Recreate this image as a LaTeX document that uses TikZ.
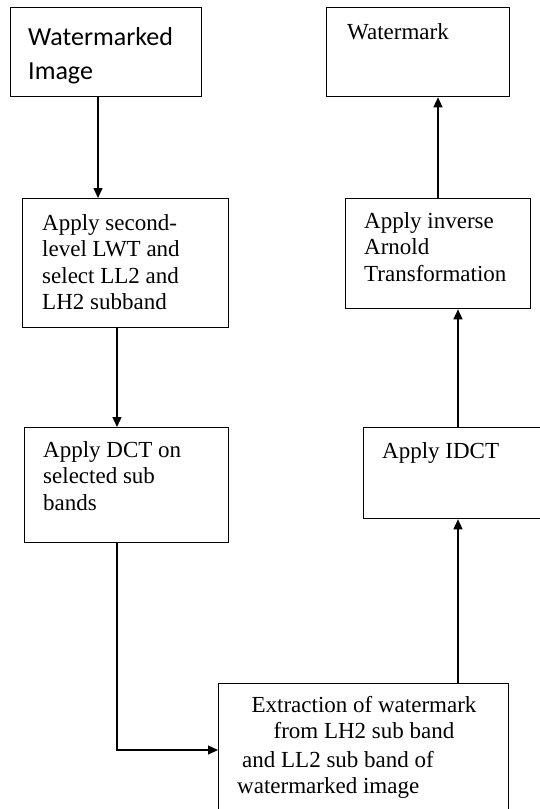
\documentclass[tikz,border=0pt]{standalone}
\usepackage{fontspec}
\setmainfont{Liberation Serif}
\newfontfamily\calibri{Carlito}
\usetikzlibrary{positioning,arrows.meta}

\begin{document}
\begin{tikzpicture}[
  x=1pt, y=-1pt,
  caja/.style={draw, line width=1.3pt, anchor=north west, inner sep=0pt},
  txt/.style={anchor=north west, inner sep=0pt, align=left,
    font=\fontsize{23}{26.5}\selectfont},
  flecha/.style={line width=1.3pt, -{Triangle[length=10pt, width=9pt]}}
]
\useasboundingbox (0,0) rectangle (540,809);
\clip (0,0) rectangle (540,809);

%% ===== left column: extraction input =====
\node[caja, minimum width=191pt, minimum height=89pt] (wimg) at (10,7) {};
\node[txt, font=\calibri\fontsize{26}{34}\selectfont] (wimgt) at (28,27) {Watermarked\\Image};

\node[caja, minimum width=206pt, minimum height=129pt] (lwt) at (22,198) {};
\node[txt] (lwtt) at (42,214) {Apply second-\\level LWT and\\select LL2 and\\LH2 subband};

\node[caja, minimum width=204pt, minimum height=115pt] (dct) at (24,427) {};
\node[txt] (dctt) at (43,441) {Apply DCT on\\selected sub\\bands};

%% ===== bottom: extraction =====
\node[caja, minimum width=290pt, minimum height=160pt] (extr) at (218,683) {};
\node[txt, anchor=north, align=center] (extrt) at (364,696) {Extraction of watermark\\from LH2 sub band};
\node[txt] (extrb) at (237,751) {\hspace{5pt}and LL2 sub band of\\watermarked image};

%% ===== right column: recovery =====
\node[caja, minimum width=200pt, minimum height=91pt] (idct) at (363,427) {};
\node[txt] (idctt) at (382,442) {Apply IDCT};

\node[caja, minimum width=185pt, minimum height=110pt] (arnold) at (345,198) {};
\node[txt] (arnoldt) at (364,212) {Apply inverse\\Arnold\\Transformation};

\node[caja, minimum width=183pt, minimum height=89pt] (wmark) at (326,7) {};
\node[txt] (wmarkt) at (347,23) {Watermark};

%% ===== connectors =====
\draw[flecha] ([xshift=88pt]wimg.south west) -- ([xshift=76pt]lwt.north west);
\draw[flecha] ([xshift=95pt]lwt.south west) -- ([xshift=93pt]dct.north west);
\draw[flecha] ([xshift=93pt]dct.south west) |- ([yshift=-67pt]extr.north west);
\draw[flecha] ([xshift=240pt]extr.north west) -- ([xshift=95pt]idct.south west);
\draw[flecha] ([xshift=95pt]idct.north west) -- ([xshift=113pt]arnold.south west);
\draw[flecha] ([xshift=93pt]arnold.north west) -- ([xshift=112pt]wmark.south west);
\end{tikzpicture}
\end{document}
